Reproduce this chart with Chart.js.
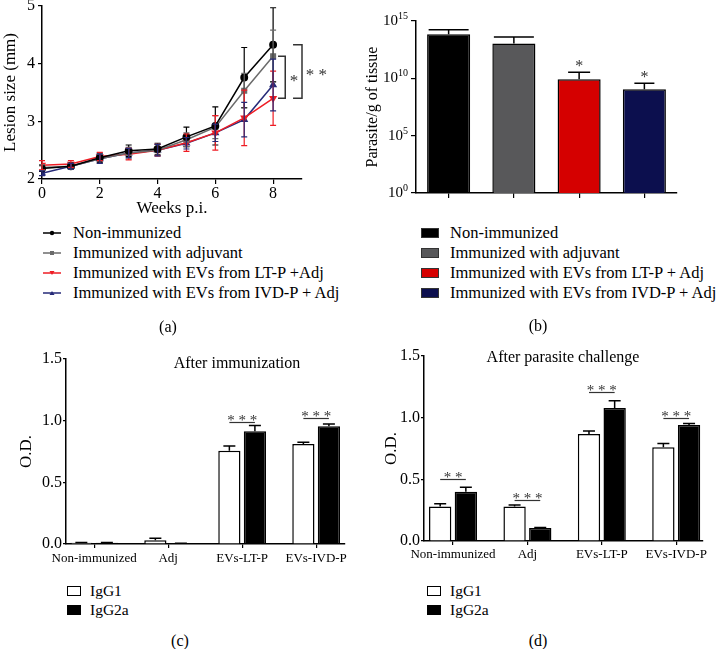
<!DOCTYPE html>
<html>
<head>
<meta charset="utf-8">
<script src="https://cdn.jsdelivr.net/npm/chart.js@4.4.1/dist/chart.umd.min.js"></script>
<style>
  html, body { margin: 0; padding: 0; background: #fff; }
  body { width: 720px; height: 649px; position: relative; overflow: hidden;
         font-family: 'Liberation Serif', 'DejaVu Serif', serif; color: #000; }
  .panel { position: absolute; }
  .txt { position: absolute; white-space: nowrap; line-height: 1; transform: translateY(-50%);
         font-family: 'Liberation Serif', 'DejaVu Serif', serif; }
  .ctr { transform: translate(-50%, -50%); }
  .sw { position: absolute; box-sizing: border-box; border: 1.5px solid #000; }
</style>
</head>
<body>
<div class="panel" style="left:0;top:-10px;width:330px;height:232px"><canvas id="chartA"></canvas></div>
<div class="panel" style="left:340px;top:-10px;width:380px;height:232px"><canvas id="chartB"></canvas></div>
<div class="panel" style="left:0;top:330px;width:360px;height:250px"><canvas id="chartC"></canvas></div>
<div class="panel" style="left:360px;top:330px;width:360px;height:250px"><canvas id="chartD"></canvas></div>

<div class="txt ctr" style="left:237px;top:363px;font-size:16px">After immunization</div>
<div class="txt ctr" style="left:563px;top:357px;font-size:16px">After parasite challenge</div>

<div class="txt ctr" style="left:168px;top:327px;font-size:16px">(a)</div>
<div class="txt ctr" style="left:538px;top:326px;font-size:16px">(b)</div>
<div class="txt ctr" style="left:180px;top:641px;font-size:16px">(c)</div>
<div class="txt ctr" style="left:538px;top:641px;font-size:16px">(d)</div>

<div id="legends"></div>

<script>
'use strict';

// ─── Data: (a) lesion size over time ─────────────────────────────────────────
const WEEKS       = [0, 1, 2, 3, 4, 5, 6, 7, 8];
const X_TICKS_A   = [0, 2, 4, 6, 8];
const Y_TICKS_A   = [2, 3, 4, 5];
const NONIMM_MEAN = [2.18, 2.22, 2.37, 2.49, 2.52, 2.73, 2.92, 3.76, 4.33];
const NONIMM_SD   = [0.05, 0.05, 0.08, 0.10, 0.10, 0.17, 0.33, 0.52, 0.64];
const ADJ_MEAN    = [2.20, 2.22, 2.35, 2.45, 2.50, 2.68, 2.90, 3.53, 4.13];
const ADJ_SD      = [0.05, 0.05, 0.08, 0.10, 0.10, 0.12, 0.20, 0.30, 0.45];
const LTP_MEAN    = [2.24, 2.26, 2.39, 2.43, 2.50, 2.63, 2.80, 3.06, 3.40];
const LTP_SD      = [0.08, 0.06, 0.07, 0.10, 0.10, 0.15, 0.30, 0.48, 0.47];
const IVDP_MEAN   = [2.10, 2.22, 2.35, 2.45, 2.50, 2.62, 2.80, 3.03, 3.63];
const IVDP_SD     = [0.04, 0.05, 0.08, 0.08, 0.10, 0.10, 0.15, 0.30, 0.45];
const LEGEND_A    = ['Non-immunized', 'Immunized with adjuvant',
                     'Immunized with EVs from LT-P +Adj', 'Immunized with EVs from IVD-P + Adj'];

// ─── Data: (b) parasite load ────────────────────────────────────────────────
const LEGEND_B        = ['Non-immunized', 'Immunized with adjuvant',
                         'Immunized with EVs from LT-P + Adj', 'Immunized with EVs from IVD-P + Adj'];
const PARASITE_LOAD   = [6.9e13, 1.1e13, 8.3e9, 1.1e9];
const PARASITE_ERR_UP = [1.7e14, 4.0e13, 3.4e10, 3.7e9];
const PARASITE_SIG    = ['', '', '*', '*'];
const LOG_TICKS       = [1, 1e5, 1e10, 1e15];

// ─── Data: (c) / (d) antibody O.D. ──────────────────────────────────────────
const GROUPS        = ['Non-immunized', 'Adj', 'EVs-LT-P', 'EVs-IVD-P'];
const OD_TICKS      = [0, 0.5, 1.0, 1.5];
const IGG1_IMM      = [0.010, 0.030, 0.757, 0.810];
const IGG1_IMM_ERR  = [0.003, 0.016, 0.038, 0.015];
const IGG2A_IMM     = [0.010, 0.005, 0.914, 0.955];
const IGG2A_IMM_ERR = [0.003, 0.002, 0.046, 0.018];
const SIG_IMM       = [{ group: 2, y: 0.99, text: '* * *' }, { group: 3, y: 1.02, text: '* * *' }];
const IGG1_CHAL      = [0.280, 0.280, 0.868, 0.760];
const IGG1_CHAL_ERR  = [0.022, 0.012, 0.024, 0.030];
const IGG2A_CHAL     = [0.400, 0.105, 1.078, 0.940];
const IGG2A_CHAL_ERR = [0.035, 0.004, 0.060, 0.012];
const SIG_CHAL = [
  { group: 0, y: 0.50, text: '* *' },
  { group: 1, y: 0.33, text: '* * *' },
  { group: 2, y: 1.206, text: '* * *' },
  { group: 3, y: 1.00, text: '* * *' },
];

// ─── Styles ─────────────────────────────────────────────────────────────────
const FONT = "'Liberation Serif', 'DejaVu Serif', serif";
const font = size => ({ family: FONT, size });
const LINE_COLORS = ['#000000', '#6b6b6b', '#ee1c24', '#262a78'];
const BAR_COLORS  = ['#000000', '#58585a', '#d50000', '#0c0f4e'];

Chart.defaults.font.family = FONT;
Chart.defaults.color = '#000';

const sum = (a, b) => a.map((v, i) => v + b[i]);
const sub = (a, b) => a.map((v, i) => v - b[i]);

// ─── Plugins ────────────────────────────────────────────────────────────────
// Error bars: hi (and optional lo) are absolute data values.
const errorBars = {
  id: 'errorBars',
  afterDatasetsDraw(chart, args, opts) {
    const { ctx } = chart;
    const ys = chart.scales.y;
    (opts.sets || []).forEach(set => {
      const meta = chart.getDatasetMeta(set.dataset);
      ctx.save();
      ctx.strokeStyle = set.color || '#000';
      ctx.lineWidth = set.width || 1.5;
      meta.data.forEach((el, i) => {
        const cap = Array.isArray(set.cap) ? set.cap[i] : set.cap;
        const yHi = ys.getPixelForValue(set.hi[i]);
        const yLo = set.lo ? ys.getPixelForValue(set.lo[i]) : el.y;
        ctx.beginPath();
        ctx.moveTo(el.x, yLo); ctx.lineTo(el.x, yHi);
        ctx.moveTo(el.x - cap / 2, yHi); ctx.lineTo(el.x + cap / 2, yHi);
        if (set.lo) { ctx.moveTo(el.x - cap / 2, yLo); ctx.lineTo(el.x + cap / 2, yLo); }
        ctx.stroke();
      });
      ctx.restore();
    });
  },
};

function drawStars(ctx, text, x, y, size) {
  ctx.save();
  ctx.fillStyle = '#333';
  ctx.font = `${size}px ${FONT}`;
  ctx.textAlign = 'center'; ctx.textBaseline = 'alphabetic';
  ctx.fillText(text, x, y);
  ctx.restore();
}

// Significance line between the two bars of a group
const groupSig = {
  id: 'groupSig',
  afterDraw(chart, args, opts) {
    const { ctx } = chart;
    const ys = chart.scales.y;
    (opts.items || []).forEach(it => {
      const x1 = chart.getDatasetMeta(0).data[it.group].x;
      const x2 = chart.getDatasetMeta(1).data[it.group].x;
      const y = Math.round(ys.getPixelForValue(it.y)) + 0.5;
      ctx.save();
      ctx.strokeStyle = '#333'; ctx.lineWidth = 1.2;
      ctx.beginPath(); ctx.moveTo(x1, y); ctx.lineTo(x2, y); ctx.stroke();
      ctx.restore();
      drawStars(ctx, it.text, (x1 + x2) / 2, y + 2, 15);
    });
  },
};

// ─── (a) Lesion size ─────────────────────────────────────────────────────────
const LINE_SERIES = [
  { name: LEGEND_A[0], mean: NONIMM_MEAN, sd: NONIMM_SD, color: LINE_COLORS[0], point: 'circle',   rot: 0 },
  { name: LEGEND_A[1], mean: ADJ_MEAN,    sd: ADJ_SD,    color: LINE_COLORS[1], point: 'rect',     rot: 0 },
  { name: LEGEND_A[2], mean: LTP_MEAN,    sd: LTP_SD,    color: LINE_COLORS[2], point: 'triangle', rot: 180 },
  { name: LEGEND_A[3], mean: IVDP_MEAN,   sd: IVDP_SD,   color: LINE_COLORS[3], point: 'triangle', rot: 0 },
];

const brackets = {
  id: 'brackets',
  afterDraw(chart) {
    const { ctx } = chart;
    const xs = chart.scales.x, ys = chart.scales.y;
    const last = WEEKS.length - 1;
    const defs = [
      { top: ADJ_MEAN[last],    bot: LTP_MEAN[last], armX: 8.17, barX: 8.42, starX: 8.72, text: '*' },
      { top: NONIMM_MEAN[last], bot: LTP_MEAN[last], armX: 8.69, barX: 9.0,  starX: 9.5,  text: '* *' },
    ];
    defs.forEach(d => {
      const xa = xs.getPixelForValue(d.armX), xb = xs.getPixelForValue(d.barX);
      const yt = ys.getPixelForValue(d.top), yb = ys.getPixelForValue(d.bot);
      ctx.save();
      ctx.strokeStyle = '#333'; ctx.lineWidth = 1.5;
      ctx.beginPath();
      ctx.moveTo(xa, yt); ctx.lineTo(xb, yt); ctx.lineTo(xb, yb); ctx.lineTo(xa, yb);
      ctx.stroke();
      ctx.restore();
      drawStars(ctx, d.text, xs.getPixelForValue(d.starX), (yt + yb) / 2 + 9, 17);
    });
  },
};

const axisGrid = len => ({ display: true, drawOnChartArea: false, drawTicks: true, tickLength: len,
                           color: '#000', lineWidth: 1.2, offset: false });
const axisBorder = { display: true, color: '#000', width: 1.5 };

new Chart(document.getElementById('chartA'), {
  type: 'line',
  data: {
    datasets: LINE_SERIES.map(s => ({
      label: s.name,
      data: WEEKS.map((w, i) => ({ x: w, y: s.mean[i] })),
      borderColor: s.color, backgroundColor: s.color, borderWidth: 1.5,
      pointStyle: s.point, pointRotation: s.rot, pointRadius: 3.2, pointHoverRadius: 3.2,
      tension: 0,
    })),
  },
  options: {
    responsive: true, maintainAspectRatio: false, animation: false, events: [],
    layout: { padding: { top: 16, right: 28, left: 0, bottom: 0 } },
    plugins: {
      legend: { display: false }, tooltip: { enabled: false },
      errorBars: {
        sets: LINE_SERIES.map((s, i) => ({
          dataset: i, hi: sum(s.mean, s.sd), lo: sub(s.mean, s.sd), cap: 6, color: s.color, width: 1.2,
        })),
      },
    },
    scales: {
      x: {
        type: 'linear', min: 0, max: 9,
        afterBuildTicks: ax => { ax.ticks = X_TICKS_A.map(v => ({ value: v })); },
        afterFit: s => { s.height = 43; },
        grid: axisGrid(5), border: axisBorder,
        ticks: { font: font(16), color: '#000', padding: 0, maxRotation: 0 },
        title: { display: true, text: 'Weeks p.i.', font: font(17), color: '#000', padding: { top: 0, bottom: 3 } },
      },
      y: {
        min: 2, max: 5,
        afterBuildTicks: ax => { ax.ticks = Y_TICKS_A.map(v => ({ value: v })); },
        afterFit: s => { s.width = 42; },
        grid: axisGrid(4), border: axisBorder,
        ticks: { font: font(16), color: '#000', padding: 3 },
        title: { display: true, text: 'Lesion size (mm)', font: font(17), color: '#000', padding: { top: 0, bottom: 0 } },
      },
    },
  },
  plugins: [errorBars, brackets],
});

// ─── (b) Parasite load ──────────────────────────────────────────────────────
const powTicks = {
  id: 'powTicks',
  afterDraw(chart) {
    const { ctx } = chart;
    const ys = chart.scales.y;
    ctx.save();
    ctx.fillStyle = '#000'; ctx.textAlign = 'right'; ctx.textBaseline = 'alphabetic';
    LOG_TICKS.forEach(v => {
      const py = ys.getPixelForValue(v);
      const exp = String(Math.round(Math.log10(v)));
      const right = ys.right - 8;
      ctx.font = `10px ${FONT}`;
      const ew = ctx.measureText(exp).width;
      ctx.fillText(exp, right, py - 2);
      ctx.font = `15px ${FONT}`;
      ctx.fillText('10', right - ew, py + 4);
    });
    ctx.restore();
  },
};

const barStars = {
  id: 'barStars',
  afterDraw(chart) {
    const ys = chart.scales.y;
    chart.getDatasetMeta(0).data.forEach((el, i) => {
      if (!PARASITE_SIG[i]) return;
      drawStars(chart.ctx, PARASITE_SIG[i], el.x, ys.getPixelForValue(PARASITE_ERR_UP[i]) - 1, 16);
    });
  },
};

new Chart(document.getElementById('chartB'), {
  type: 'bar',
  data: {
    labels: LEGEND_B,
    datasets: [{
      data: PARASITE_LOAD, backgroundColor: BAR_COLORS, borderColor: '#000', borderWidth: 1.5,
      barPercentage: 0.66, categoryPercentage: 1,
    }],
  },
  options: {
    responsive: true, maintainAspectRatio: false, animation: false, events: [],
    layout: { padding: { top: 31, right: 43, left: 0, bottom: 0 } },
    plugins: {
      legend: { display: false }, tooltip: { enabled: false },
      errorBars: { sets: [{ dataset: 0, hi: PARASITE_ERR_UP, cap: [40, 40, 22, 20], color: '#000', width: 1.5 }] },
    },
    scales: {
      x: {
        offset: true,
        afterFit: s => { s.height = 29; },
        grid: axisGrid(5), border: axisBorder,
        ticks: { display: false },
      },
      y: {
        type: 'logarithmic', min: 1, max: 1e15,
        afterBuildTicks: ax => { ax.ticks = LOG_TICKS.map(v => ({ value: v })); },
        afterFit: s => { s.width = 76; },
        grid: axisGrid(5), border: axisBorder,
        ticks: { display: false },
        title: { display: true, text: 'Parasite/g of tissue', font: font(16), color: '#000', padding: { top: 23, bottom: 0 } },
      },
    },
  },
  plugins: [errorBars, barStars, powTicks],
});

// ─── (c) / (d) IgG1 vs IgG2a ────────────────────────────────────────────────
function odChart(id, igg1, igg1Err, igg2a, igg2aErr, sig, box) {
  new Chart(document.getElementById(id), {
    type: 'bar',
    data: {
      datasets: [
        { label: 'IgG1',  data: igg1.map((v, i) => ({ x: i, y: v })),  backgroundColor: '#fff' },
        { label: 'IgG2a', data: igg2a.map((v, i) => ({ x: i, y: v })), backgroundColor: '#000' },
      ].map(d => ({ ...d, borderColor: '#000', borderWidth: 1.5, barPercentage: 0.87, categoryPercentage: 0.69 })),
    },
    options: {
      responsive: true, maintainAspectRatio: false, animation: false, events: [],
      layout: { padding: { top: box.top, right: box.right, left: 0, bottom: 0 } },
      plugins: {
        legend: { display: false }, tooltip: { enabled: false },
        errorBars: {
          sets: [
            { dataset: 0, hi: sum(igg1, igg1Err), cap: 12, color: '#000', width: 1.5 },
            { dataset: 1, hi: sum(igg2a, igg2aErr), cap: 12, color: '#000', width: 1.5 },
          ],
        },
        groupSig: { items: sig },
      },
      scales: {
        x: {
          type: 'linear', min: box.xMin, max: box.xMax, offset: false,
          afterBuildTicks: ax => { ax.ticks = GROUPS.map((g, i) => ({ value: i })); },
          afterFit: s => { s.height = box.xh; },
          grid: axisGrid(4), border: axisBorder,
          ticks: { font: font(13), color: '#000', padding: box.lp, maxRotation: 0, minRotation: 0,
                   autoSkip: false, callback: v => GROUPS[v] ?? '' },
        },
        y: {
          min: 0, max: 1.5,
          afterBuildTicks: ax => { ax.ticks = OD_TICKS.map(v => ({ value: v })); },
          afterFit: s => { s.width = box.yw; },
          grid: axisGrid(3), border: axisBorder,
          ticks: { font: font(16), color: '#000', padding: 1, callback: v => Number(v).toFixed(1) },
          title: { display: true, text: 'O.D.', font: font(17), color: '#000', padding: { top: box.tp, bottom: 0 } },
        },
      },
    },
    plugins: [errorBars, groupSig],
  });
}

odChart('chartC', IGG1_IMM, IGG1_IMM_ERR, IGG2A_IMM, IGG2A_IMM_ERR, SIG_IMM,
        { top: 29, right: 15, xh: 36, yw: 66, tp: 16, lp: 3, xMin: -0.38, xMax: 3.39 });
odChart('chartD', IGG1_CHAL, IGG1_CHAL_ERR, IGG2A_CHAL, IGG2A_CHAL_ERR, SIG_CHAL,
        { top: 26, right: 17, xh: 39, yw: 64, tp: 21, lp: 2, xMin: -0.39, xMax: 3.36 });

// ─── Legends (HTML) ─────────────────────────────────────────────────────────
const legendRoot = document.getElementById('legends');
const ROW_Y = [233, 253, 273, 293];

function addText(text, left, top, size) {
  const d = document.createElement('div');
  d.className = 'txt';
  d.style.cssText = `left:${left}px;top:${top}px;font-size:${size}px`;
  d.textContent = text;
  legendRoot.appendChild(d);
}

function markerSvg(s) {
  const c = s.color;
  let m;
  if (s.point === 'circle') m = `<circle cx="9" cy="4" r="2.2" fill="${c}"/>`;
  else if (s.point === 'rect') m = `<rect x="7" y="2" width="4" height="4" fill="${c}"/>`;
  else if (s.rot === 180) m = `<polygon points="6.5,2 11.5,2 9,6" fill="${c}"/>`;
  else m = `<polygon points="6.5,6 11.5,6 9,2" fill="${c}"/>`;
  return `<svg width="18" height="8"><line x1="0" y1="4" x2="18" y2="4" stroke="${c}" stroke-width="1.5"/>${m}</svg>`;
}

LINE_SERIES.forEach((s, i) => {
  const d = document.createElement('div');
  d.style.cssText = `position:absolute;left:43px;top:${ROW_Y[i] - 4}px;height:8px;line-height:0`;
  d.innerHTML = markerSvg(s);
  legendRoot.appendChild(d);
  addText(s.name, 73, ROW_Y[i], 16.5);
});

LEGEND_B.forEach((name, i) => {
  const d = document.createElement('div');
  d.className = 'sw';
  d.style.cssText = `left:421px;top:${ROW_Y[i] - 5}px;width:18px;height:10px;background:${BAR_COLORS[i]};border-color:#333`;
  legendRoot.appendChild(d);
  addText(name, 450, ROW_Y[i], 16.5);
});

[[67, 90], [427, 450]].forEach(([sx, tx]) => {
  [['IgG1', '#fff', 591], ['IgG2a', '#000', 610]].forEach(([name, fill, y]) => {
    const d = document.createElement('div');
    d.className = 'sw';
    d.style.cssText = `left:${sx}px;top:${y - 5}px;width:14px;height:10px;background:${fill}`;
    legendRoot.appendChild(d);
    addText(name, tx, y, 15.5);
  });
});
</script>
</body>
</html>
